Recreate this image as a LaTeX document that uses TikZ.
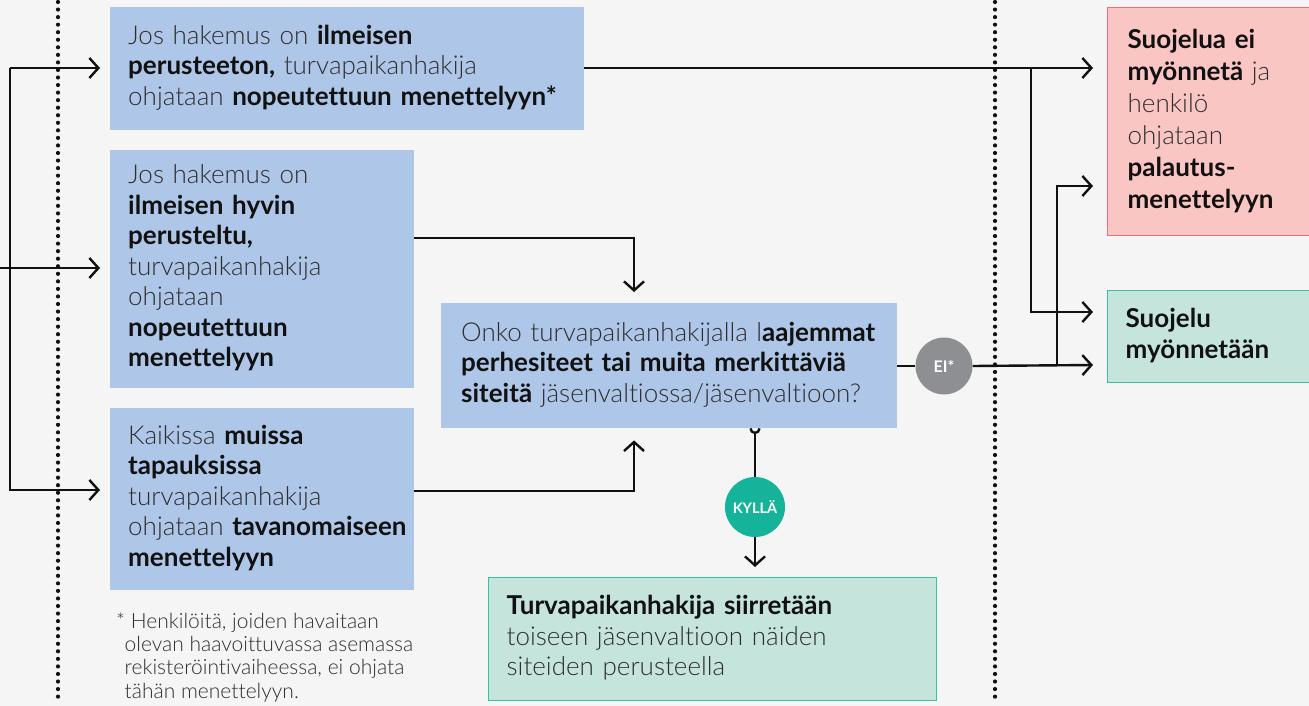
\documentclass[tikz,border=0pt]{standalone}
\usepackage{fontspec}
\setmainfont{Lato}[UprightFont=* Light, BoldFont=* Bold, Ligatures=NoCommon]
\usetikzlibrary{arrows.meta}
\definecolor{bgc}{HTML}{F5F5F5}
\definecolor{bluec}{HTML}{AEC6E8}
\definecolor{redf}{HTML}{F9C6C3}
\definecolor{redd}{HTML}{EB6F7B}
\definecolor{grnf}{HTML}{C5E5DC}
\definecolor{grnd}{HTML}{3DBFA5}
\definecolor{greyc}{HTML}{8E8F93}
\definecolor{tealc}{HTML}{14B39A}
\definecolor{ink}{HTML}{111111}
\definecolor{txt}{HTML}{2E2E2E}
\newcommand{\bb}[1]{{\bfseries\color{ink}#1}}
\newcommand{\lns}[1]{\begin{tabular}{@{}l@{}}#1\end{tabular}}
\tikzset{
  box/.style={anchor=north west, inner xsep=0pt, inner ysep=0pt, align=left,
    font=\fontsize{26}{30.5}\selectfont, text=txt},
  arr/.style={draw=ink, line width=2.4pt, -{Straight Barb[length=9pt,width=20pt]}},
  ln/.style={draw=ink, line width=2.4pt},
  dotline/.style={draw=ink, line width=4.2pt, line cap=round, dash pattern=on 0pt off 7.55pt},
  badge/.style={circle, inner sep=0pt, text=white}
}
\begin{document}
\begin{tikzpicture}[x=1pt,y=-1pt]
\useasboundingbox (0,0) rectangle (1309,706);
\fill[bgc] (0,0) rectangle (1309,706);
% dotted separators
\draw[dotline] (58,2) -- (58,704);
\draw[dotline] (995,2) -- (995,704);
% boxes
\node[box, fill=bluec, minimum width=474pt, minimum height=123pt, text width=438pt, inner xsep=18pt] (b1) at (110,7)
  {\lns{Jos hakemus on \bb{ilmeisen}\\ \bb{perusteeton,} turvapaikanhakija\\ ohjataan \bb{nopeutettuun menettelyyn*}}};
\node[box, fill=bluec, minimum width=304pt, minimum height=238pt, text width=268pt, inner xsep=18pt] (b2) at (110,150)
  {\lns{Jos hakemus on\\ \bb{ilmeisen hyvin}\\ \bb{perusteltu,}\\ turvapaikanhakija\\ ohjataan\\ \bb{nopeutettuun}\\ \bb{menettelyyn}}};
\node[box, fill=bluec, minimum width=304pt, minimum height=182pt, text width=268pt, inner xsep=18pt] (b3) at (110,408)
  {\lns{Kaikissa \bb{muissa}\\ \bb{tapauksissa}\\ turvapaikanhakija\\ ohjataan \bb{tavanomaiseen}\\ \bb{menettelyyn}}};
\node[box, fill=bluec, minimum width=456pt, minimum height=125pt, text width=416pt, inner xsep=20pt] (q) at (441,303)
  {\lns{Onko turvapaikanhakijalla l\bb{aajemmat}\\ \bb{perhesiteet tai muita merkittäviä}\\ \bb{siteitä} jäsenvaltiossa/jäsenvaltioon?}};
\node[box, fill=grnf, draw=grnd, line width=1.3pt, minimum width=448pt, minimum height=123pt, text width=412pt, inner xsep=18pt] (t) at (488,577)
  {\lns{\bb{Turvapaikanhakija siirretään}\\ toiseen jäsenvaltioon näiden\\ siteiden perusteella}};
\node[box, fill=redf, draw=redd, line width=1.3pt, minimum width=210pt, minimum height=228pt, text width=170pt, inner xsep=20pt, font=\fontsize{26}{32}\selectfont] (red) at (1107,7)
  {\lns{\bb{Suojelua ei}\\ \bb{myönnetä} ja\\ henkilö\\ ohjataan\\ \bb{palautus-}\\ \bb{menettelyyn}}};
\node[box, fill=grnf, draw=grnd, line width=1.3pt, minimum width=210pt, minimum height=92pt, text width=174pt, inner xsep=18pt] (grn) at (1107,290)
  {\lns{\bb{Suojelu}\\ \bb{myönnetään}}};
% footnote
\node[anchor=north west, inner sep=0pt, align=left, text=txt, font=\fontsize{21}{23.2}\selectfont] (fn) at (116,612)
  {\lns{* Henkilöitä, joiden havaitaan\\ \hspace*{8.5pt}olevan haavoittuvassa asemassa\\ \hspace*{8.5pt}rekisteröintivaiheessa, ei ohjata\\ \hspace*{8.5pt}tähän menettelyyn.}};
% badges
\node[badge, fill=greyc, minimum size=57pt, font=\bfseries\fontsize{16}{18}\selectfont] (ei) at (944,366) {EI*};
\node[badge, fill=tealc, minimum size=60pt, font=\bfseries\fontsize{14.5}{16}\selectfont] (ky) at (755,507) {KYLLÄ};
% coordinates
\coordinate (L0) at (0,268);
\coordinate (Lt) at (10,68);
\coordinate (Lb) at (10,490);
\coordinate (c2) at (634,238);
\coordinate (c3) at (634,491);
\coordinate (r1) at (1093,68);
\coordinate (j1) at (1031,68);
\coordinate (g1) at (1093,312);
\coordinate (g2) at (1093,365);
\coordinate (j2) at (1057,365);
\coordinate (r2) at (1093,186);
\coordinate (qk) at (ky.north |- q.south);
% left connectors
\draw[arr, shorten >=10pt] (L0) -- (L0 -| b2.west);
\draw[arr, shorten >=10pt] (Lt) -- (Lt -| b1.west);
\draw[arr, shorten >=10pt] (Lt) -- (Lb) -- (Lb -| b3.west);
% to question box
\draw[arr, shorten >=11pt] (b2.east |- c2) -- (c2) -- (c2 |- q.north);
\draw[arr, shorten >=12pt] (b3.east |- c3) -- (c3) -- (c3 |- q.south);
% to outcomes
\draw[arr] (b1.east |- r1) -- (r1);
\draw[arr] (j1) |- (g1);
\draw[ln] (q.east |- ei.west) -- (ei.west);
\draw[arr] (ei.east) -- (g2);
\draw[arr] (j2) |- (r2);
% yes branch
\draw[ln] ([xshift=-4.5pt]qk) arc[start angle=180, end angle=360, radius=4.5pt];
\draw[ln] ([yshift=-4.5pt]qk) -- (ky.north);
\draw[arr, shorten >=10pt] (ky.south) -- (ky.south |- t.north);
\end{tikzpicture}
\end{document}
